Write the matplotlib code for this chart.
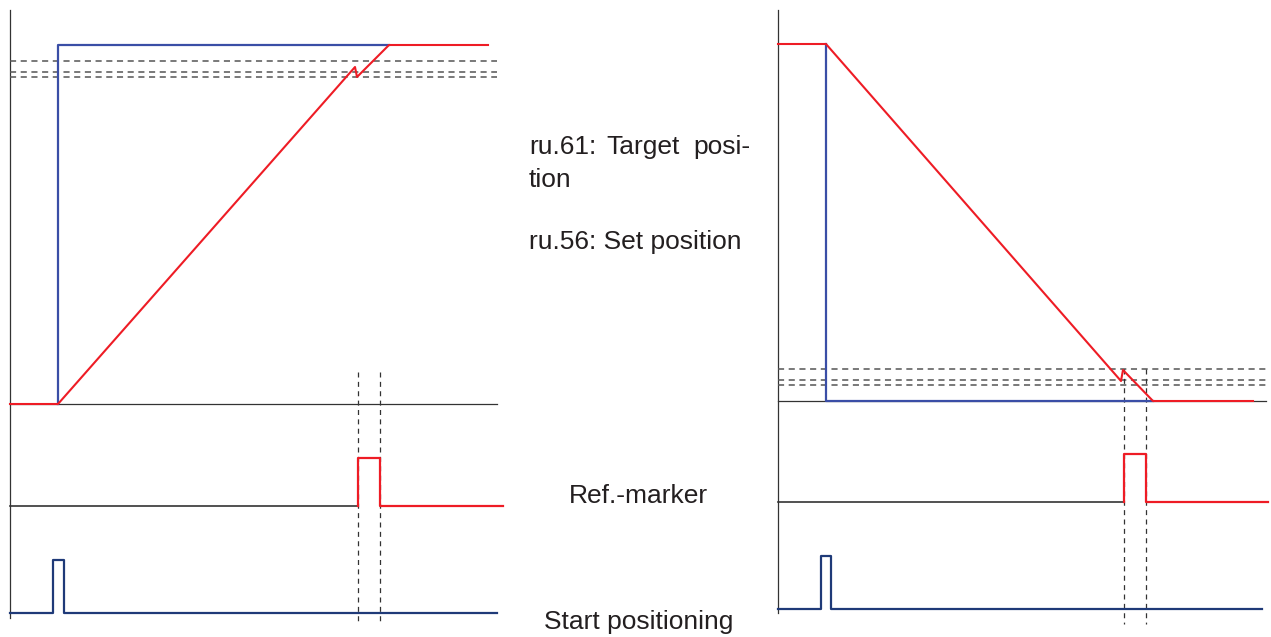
import matplotlib.pyplot as plt

plt.rcParams['font.family'] = ['Liberation Sans', 'DejaVu Sans']

RED = '#ee1c25'
BLUE = '#3a4ea6'
NAVY = '#1f3a78'
DARK = '#333333'
DASH = '#555555'
TEXT = '#231f20'

# Everything is in picture units (x = time to the right, y = level downwards)

# ---- left panel: positive move ----
left_axis_x = 10
left_axis_y = [10, 618]
left_base = 404
left_end = 497
left_tol = [61, 72, 77]                       # dashed tolerance band
left_marker = [358, 380]                      # ref.-marker edges
left_marker_top = 372

left_set_t = [10, 58, 355, 357, 389, 488]     # ru.56 set position
left_set_y = [404, 404, 67, 77, 45, 45]
left_tgt_t = [58, 58, 389]                    # ru.61 target position
left_tgt_y = [404, 45, 45]

left_ref_lo, left_ref_hi = 506, 458
left_ref_end = 503
left_start_t = [10, 53, 53, 64, 64, 497]      # start positioning pulse
left_start_y = [613, 613, 560, 560, 613, 613]

# ---- right panel: negative move ----
right_axis_x = 778
right_axis_y = [10, 613]
right_base = 401
right_end = 1266
right_tol = [369, 380, 384.5]
right_marker = [1124, 1146]
right_marker_top = 369

right_set_t = [778, 826, 1121, 1123, 1153, 1253]
right_set_y = [44, 44, 381, 370, 401, 401]
right_tgt_t = [826, 826, 1153]
right_tgt_y = [44, 401, 401]

right_ref_lo, right_ref_hi = 502, 454
right_ref_end = 1268
right_start_t = [778, 821, 821, 831, 831, 1262]
right_start_y = [609, 609, 556, 556, 609, 609]

fig = plt.figure(figsize=(12.71, 6.37), dpi=100)
ax = fig.add_axes([0, 0, 1, 1])
ax.set_xlim(0, 1271)
ax.set_ylim(637, 0)
ax.axis('off')


def panel(axis_x, axis_y, base, end, tol, marker, marker_top, set_t, set_y,
          tgt_t, tgt_y, ref_lo, ref_hi, ref_end, start_t, start_y):
    ax.plot([axis_x, axis_x], axis_y, color=DARK, lw=0.9)
    ax.plot([axis_x, end], [base, base], color=DARK, lw=0.9)
    for y in tol:
        ax.plot([axis_x, end], [y, y], color=DASH, lw=1.1, ls=(0, (4, 3)))
    for x in marker:
        ax.plot([x, x], [marker_top, 624], color=DARK, lw=0.9, ls=(0, (4, 3.5)))
    ax.plot(tgt_t, tgt_y, color=BLUE, lw=1.6)
    ax.plot(set_t, set_y, color=RED, lw=1.5)
    # ref.-marker
    ax.plot([axis_x, marker[0]], [ref_lo, ref_lo], color=DARK, lw=1.2)
    ax.plot([marker[0], marker[0], marker[1], marker[1], ref_end],
            [ref_lo, ref_hi, ref_hi, ref_lo, ref_lo], color=RED, lw=1.6)
    # start positioning
    ax.plot(start_t, start_y, color=NAVY, lw=1.6)


panel(left_axis_x, left_axis_y, left_base, left_end, left_tol, left_marker,
      left_marker_top, left_set_t, left_set_y, left_tgt_t, left_tgt_y,
      left_ref_lo, left_ref_hi, left_ref_end, left_start_t, left_start_y)
panel(right_axis_x, right_axis_y, right_base, right_end, right_tol, right_marker,
      right_marker_top, right_set_t, right_set_y, right_tgt_t, right_tgt_y,
      right_ref_lo, right_ref_hi, right_ref_end, right_start_t, right_start_y)

fs = 19
kw = dict(fontsize=fs, va='baseline', color=TEXT)
# justified first line
ax.text(529, 154, 'ru.61:', ha='left', **kw)
ax.text(643, 154, 'Target', ha='center', **kw)
ax.text(750, 154, 'posi-', ha='right', **kw)
ax.text(529, 187, 'tion', ha='left', **kw)
ax.text(529, 249, 'ru.56: Set position', ha='left', **kw)
ax.text(638, 503, 'Ref.-marker', ha='center', **kw)
ax.text(639, 629, 'Start positioning', ha='center', **kw)

fig.savefig('out.png', dpi=100)
